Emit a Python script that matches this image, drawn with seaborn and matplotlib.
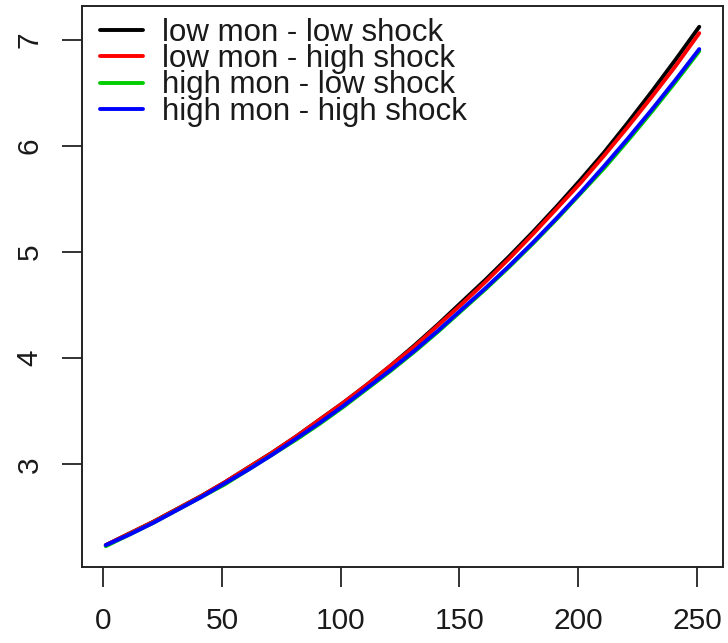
import numpy as np
import pandas as pd
import matplotlib
matplotlib.use("Agg")
import matplotlib.pyplot as plt
import seaborn as sns

# ---- data ----
steps = [1, 11, 21, 31, 41, 51, 61, 71, 81, 91, 101, 111, 121, 131, 141,
         151, 161, 171, 181, 191, 201, 211, 221, 231, 241, 251]
low_mon_low_shock = [2.24, 2.35, 2.46, 2.58, 2.70, 2.83, 2.97, 3.11, 3.26, 3.42,
                     3.58, 3.75, 3.93, 4.12, 4.32, 4.53, 4.74, 4.96, 5.19, 5.43,
                     5.68, 5.94, 6.22, 6.51, 6.81, 7.12]
low_mon_high_shock = [2.24, 2.35, 2.46, 2.58, 2.70, 2.83, 2.97, 3.11, 3.26, 3.42,
                      3.58, 3.75, 3.93, 4.11, 4.31, 4.51, 4.72, 4.94, 5.17, 5.41,
                      5.65, 5.91, 6.18, 6.46, 6.75, 7.06]
high_mon_low_shock = [2.23, 2.34, 2.45, 2.57, 2.69, 2.81, 2.95, 3.09, 3.23, 3.38,
                      3.54, 3.71, 3.88, 4.06, 4.25, 4.45, 4.65, 4.86, 5.08, 5.31,
                      5.55, 5.79, 6.05, 6.32, 6.60, 6.89]
high_mon_high_shock = [2.24, 2.34, 2.45, 2.57, 2.69, 2.82, 2.95, 3.09, 3.24, 3.39,
                       3.55, 3.72, 3.89, 4.07, 4.26, 4.46, 4.66, 4.87, 5.09, 5.32,
                       5.56, 5.81, 6.07, 6.34, 6.62, 6.91]
series_names = ["low mon - low shock", "low mon - high shock",
                "high mon - low shock", "high mon - high shock"]
series_values = [low_mon_low_shock, low_mon_high_shock,
                 high_mon_low_shock, high_mon_high_shock]
colors = ["#000000", "#FF0000", "#00CD00", "#0000FF"]
x_ticks = [0, 50, 100, 150, 200, 250]
y_ticks = [3, 4, 5, 6, 7]

df = pd.concat([pd.DataFrame({"t": steps, "v": vals, "series": name})
                for name, vals in zip(series_names, series_values)],
               ignore_index=True)

sns.set_theme(style="white")
plt.rcParams["font.family"] = ["Liberation Sans", "DejaVu Sans"]

fig = plt.figure(figsize=(7.28, 6.43), dpi=100)
ax = fig.add_axes([82/728, 1 - 567/643, (723-82)/728, (567-6)/643])

sns.lineplot(data=df, x="t", y="v", hue="series", hue_order=series_names,
             palette=colors, linewidth=2.8, ax=ax, legend=True,
             solid_capstyle="round", solid_joinstyle="round")

ax.margins(x=0.04, y=0.04)
ax.set_xticks(x_ticks)
ax.set_yticks(y_ticks)
ax.set_xlabel("")
ax.set_ylabel("")
ax.grid(False)
for sp in ax.spines.values():
    sp.set_visible(True)
    sp.set_color("#222222")
    sp.set_linewidth(1.4)
ax.tick_params(axis="both", direction="out", length=14.5, width=1.4,
               color="#333333", labelsize=21.5, labelcolor="#1a1a1a",
               bottom=True, left=True)
ax.tick_params(axis="x", pad=14)
ax.tick_params(axis="y", pad=13, labelrotation=90)
for lab in ax.get_yticklabels():
    lab.set_va("center")

handles, labels = ax.get_legend_handles_labels()
leg = ax.legend(handles, labels, loc="upper left",
                bbox_to_anchor=((100-82)/641, 1 - 12/561),
                frameon=False, fontsize=22.5, borderpad=0, borderaxespad=0,
                handlelength=1.38, handletextpad=0.61, labelspacing=-0.12)
for line in leg.get_lines():
    line.set_linewidth(2.8)
for t in leg.get_texts():
    t.set_color("#1a1a1a")

fig.savefig("out.png", dpi=100)
